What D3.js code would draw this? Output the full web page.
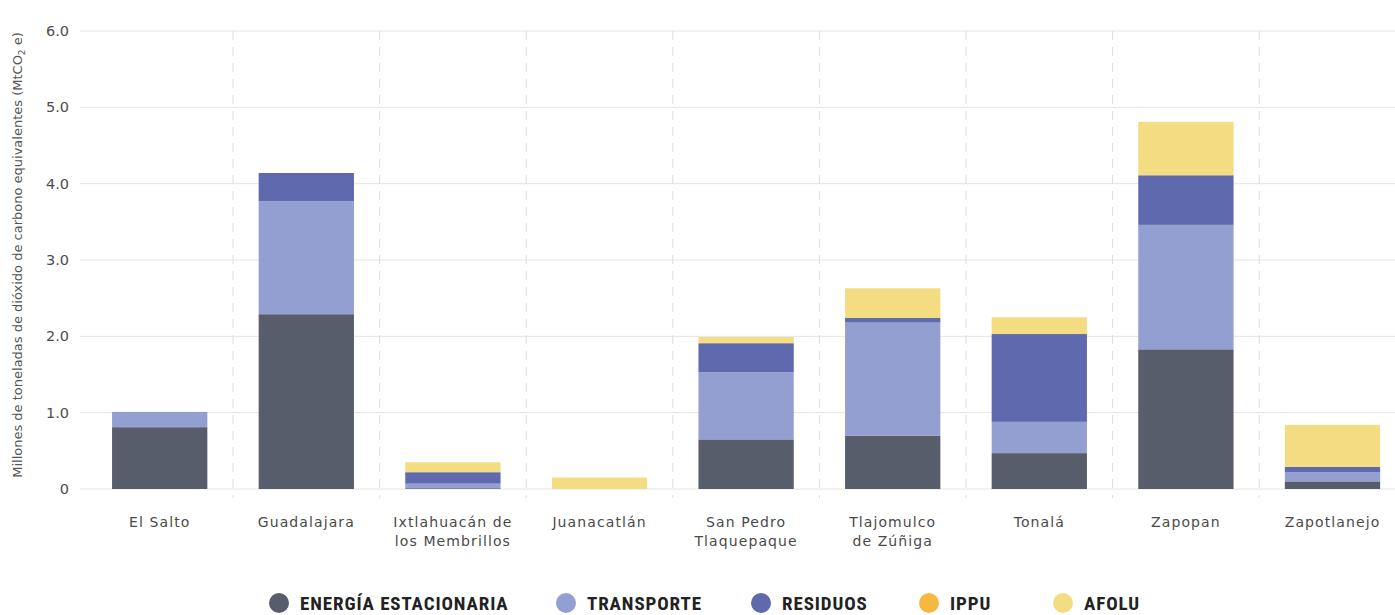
<!DOCTYPE html>
<html><head><meta charset="utf-8">
<script src="https://cdn.jsdelivr.net/npm/d3@7"></script>
<style>
body{margin:0;background:#fff;}
svg{display:block;}
</style></head>
<body>
<svg id="c" width="1395" height="615"></svg>
<script>
const categories = ["El Salto","Guadalajara","Ixtlahuacán de|los Membrillos","Juanacatlán","San Pedro|Tlaquepaque","Tlajomulco|de Zúñiga","Tonalá","Zapopan","Zapotlanejo"];
const seriesNames = ["ENERGÍA ESTACIONARIA","TRANSPORTE","RESIDUOS","IPPU","AFOLU"];
const energia   = [0.81, 2.29, 0.01, 0.00, 0.65, 0.70, 0.47, 1.83, 0.10];
const transporte= [0.20, 1.48, 0.06, 0.00, 0.88, 1.48, 0.41, 1.63, 0.12];
const residuos  = [0.00, 0.37, 0.15, 0.00, 0.38, 0.06, 1.15, 0.65, 0.07];
const ippu      = [0.00, 0.00, 0.00, 0.00, 0.00, 0.00, 0.00, 0.00, 0.00];
const afolu     = [0.00, 0.00, 0.13, 0.15, 0.08, 0.39, 0.22, 0.70, 0.55];
const yTicks = [0,1,2,3,4,5,6];
const colors = ["#585d6b","#949fd1","#5f6aae","#f5b942","#f3dc82"];

const seriesVals = [energia, transporte, residuos, ippu, afolu];
const rows = categories.map((c,i)=>{ const o={cat:c}; seriesNames.forEach((s,j)=>o[s]=seriesVals[j][i]); return o; });

const svg = d3.select("#c");
const x = d3.scaleBand().domain(categories).range([86.4, 1405.8]).paddingInner(0.35).paddingOuter(0.175);
const y = d3.scaleLinear().domain([0,6]).range([489, 31]);
const step = x.step();

// gridlines
svg.append("g").selectAll("line").data(yTicks).join("line")
  .attr("x1",80).attr("x2",1395).attr("y1",d=>y(d)).attr("y2",d=>y(d))
  .attr("stroke","#e4e4e4").attr("stroke-width",1);

// dashed separators
svg.append("g").selectAll("line").data(categories.slice(1)).join("line")
  .attr("x1",d=>x(d) - step*x.paddingInner()/2)
  .attr("x2",d=>x(d) - step*x.paddingInner()/2)
  .attr("y1",31).attr("y2",498)
  .attr("stroke","#dcdcdc").attr("stroke-width",1).attr("stroke-dasharray","9,7");

// y tick labels
svg.append("g").selectAll("text").data(yTicks).join("text")
  .attr("x",69).attr("y",d=>y(d)+5).attr("text-anchor","end")
  .attr("font-family","'DejaVu Sans', sans-serif").attr("font-size",14.5)
  .attr("fill","#4d4d4d")
  .text(d=>d===0?"0":d3.format(".1f")(d));

// y axis title
const yt = svg.append("text").attr("transform","translate(22,255) rotate(-90)")
  .attr("text-anchor","middle").attr("font-family","'DejaVu Sans', sans-serif")
  .attr("font-size",13).attr("fill","#555");
yt.append("tspan").text("Millones de toneladas de dióxido de carbono equivalentes (MtCO");
yt.append("tspan").attr("font-size",9).attr("dy",3).text("2");
yt.append("tspan").attr("dy",-3).text(" e)");

// bars
const stack = d3.stack().keys(seriesNames)(rows);
svg.append("g").selectAll("g").data(stack).join("g")
  .attr("fill",(d,i)=>colors[i])
  .selectAll("rect").data(d=>d).join("rect")
  .attr("x",d=>x(d.data.cat)).attr("width",x.bandwidth())
  .attr("y",d=>y(d[1])).attr("height",d=>Math.max(0,y(d[0])-y(d[1])));

// x labels
const xl = svg.append("g").selectAll("text").data(categories).join("text")
  .attr("x",d=>x(d)+x.bandwidth()/2).attr("y",527).attr("text-anchor","middle")
  .attr("font-family","'DejaVu Sans', sans-serif").attr("font-size",14)
  .attr("letter-spacing",1.1)
  .attr("fill","#4a4a4a");
xl.each(function(d){
  const parts=d.split("|"); const t=d3.select(this);
  parts.forEach((p,i)=>t.append("tspan").attr("x",x(d)+x.bandwidth()/2).attr("dy",i?19:0).text(p));
});

// legend
const legX=[279,566,761,929,1063];
const lg = svg.append("g").selectAll("g").data(seriesNames).join("g")
  .attr("transform",(d,i)=>`translate(${legX[i]},603)`);
lg.append("circle").attr("r",10).attr("fill",(d,i)=>colors[i]);
lg.append("text").attr("x",21).attr("y",6.5)
  .attr("font-family","'Liberation Sans Narrow','Roboto Condensed',Roboto,sans-serif")
  .attr("font-weight",700).attr("font-size",19).attr("letter-spacing",0.9).attr("fill","#222")
  .text(d=>d);
</script>
</body></html>
